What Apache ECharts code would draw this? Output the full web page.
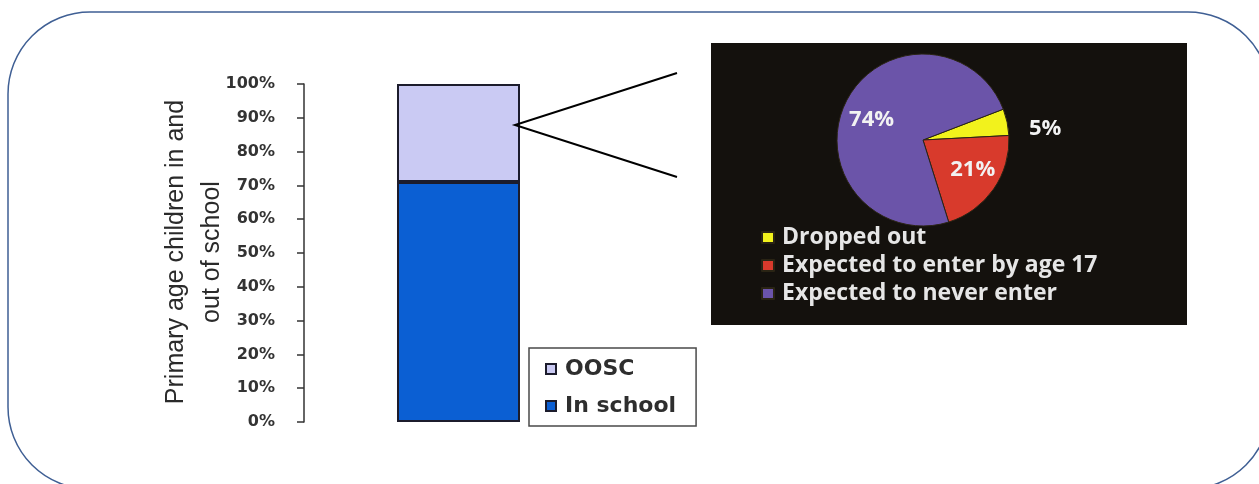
<!DOCTYPE html>
<html>
<head>
<meta charset="utf-8">
<script src="https://cdn.jsdelivr.net/npm/echarts@6/dist/echarts.min.js"></script>
<style>
  html, body { margin: 0; padding: 0; background: #ffffff; }
  #chart { width: 1259px; height: 484px; }
</style>
</head>
<body>
<div id="chart"></div>
<script>
// Primary age children: share in school vs out of school (stacked to 100%)
const categories = ['Primary age children'];
const inSchool = [71];
const oosc = [29];
const barLegend = ['OOSC', 'In school'];
const yTitle = 'Primary age children in and\nout of school';

// Breakdown of out-of-school children
const pieNames = ['Dropped out', 'Expected to enter by age 17', 'Expected to never enter'];
const pieValues = [5, 21, 74];
const pieColors = ['#f2f21c', '#d83a2c', '#6b54a9'];

const chart = echarts.init(document.getElementById('chart'), null, { renderer: 'canvas' });

// nudges for the slice labels
const pieLabelOffsets = [[18, 7], [12, 3], [-10, 0]];

const pieData = pieNames.map((name, i) => ({
  name: name,
  value: pieValues[i],
  itemStyle: { color: pieColors[i] },
  label: { offset: pieLabelOffsets[i] }
}));
// the smallest slice carries its label outside the pie
pieData[0].label.position = 'outside';
pieData[0].label.distanceToLabelLine = 0;
pieData[0].labelLine = { show: false, length: 4, length2: 0 };

const option = {
  backgroundColor: '#ffffff',
  animation: false,
  graphic: [
    {
      type: 'rect', z: 0, silent: true,
      shape: { x: 8, y: 12, width: 1262, height: 477, r: 82 },
      style: { fill: 'none', stroke: '#3f5f94', lineWidth: 1.5 }
    },
    {
      type: 'rect', z: 0, silent: true,
      shape: { x: 711, y: 43, width: 476, height: 282 },
      style: { fill: '#14110d' }
    },
    {
      type: 'polyline', z: 5, silent: true,
      shape: { points: [[677, 73], [515, 125], [677, 177]] },
      style: { stroke: '#000000', lineWidth: 2, fill: 'none' }
    },
    {
      // rotated value-axis title
      type: 'text', z: 5, silent: true,
      x: 194, y: 252, rotation: Math.PI / 2,
      style: {
        text: yTitle,
        align: 'center', verticalAlign: 'middle',
        fontFamily: 'Liberation Sans, Arial, sans-serif',
        fontSize: 25, lineHeight: 36, fill: '#2a2a2a'
      }
    }
  ],
  grid: { left: 304, width: 309, top: 84, bottom: 62, containLabel: false },
  xAxis: {
    type: 'category',
    data: categories,
    show: false
  },
  yAxis: {
    type: 'value',
    min: 0, max: 100, interval: 10,
    axisLine: { show: true, lineStyle: { color: '#333333', width: 1.5 } },
    axisTick: { show: true, length: 7, lineStyle: { color: '#333333', width: 1.5 } },
    splitLine: { show: false },
    axisLabel: {
      margin: 29,
      formatter: '{value}%',
      fontFamily: 'DejaVu Sans, sans-serif',
      fontWeight: 'bold', fontSize: 16, color: '#333333'
    }
  },
  legend: [
    {
      data: barLegend,
      orient: 'vertical',
      left: 529, top: 348,
      padding: [10, 20, 9, 16],
      itemWidth: 10, itemHeight: 10,
      itemGap: 15,
      icon: 'rect',
      borderColor: '#4a4a4a', borderWidth: 1.5,
      backgroundColor: '#ffffff',
      selectedMode: false,
      textStyle: {
        fontFamily: 'DejaVu Sans, sans-serif',
        fontWeight: 'bold', fontSize: 22, color: '#2e2e2e',
        padding: [0, 0, 0, 4]
      }
    },
    {
      data: pieNames,
      orient: 'vertical',
      left: 761, top: 226,
      padding: 0,
      itemWidth: 12, itemHeight: 11,
      itemGap: 5,
      icon: 'rect',
      selectedMode: false,
      textStyle: {
        fontFamily: 'Open Sans, sans-serif',
        fontWeight: 'bold', fontSize: 23, color: '#e6e6e6',
        padding: [0, 0, 0, 3]
      }
    }
  ],
  series: [
    {
      name: 'In school',
      type: 'bar',
      stack: 'total',
      data: inSchool,
      barWidth: 123,
      itemStyle: { color: '#0b5fd3', borderColor: '#1c1c2c', borderWidth: 2 }
    },
    {
      name: 'OOSC',
      type: 'bar',
      stack: 'total',
      data: oosc,
      barWidth: 123,
      itemStyle: { color: '#cacaf3', borderColor: '#1c1c2c', borderWidth: 2 }
    },
    {
      name: 'Out of school',
      type: 'pie',
      center: [923, 140],
      radius: 86,
      startAngle: 21,
      clockwise: true,
      avoidLabelOverlap: false,
      itemStyle: { borderColor: '#2a2414', borderWidth: 1 },
      label: {
        show: true,
        position: 'inside',
        formatter: '{c}%',
        fontFamily: 'Open Sans, sans-serif',
        fontWeight: 'bold', fontSize: 22, color: '#f2f2f2'
      },
      emphasis: { disabled: true },
      data: pieData
    }
  ]
};

chart.setOption(option);
</script>
</body>
</html>
